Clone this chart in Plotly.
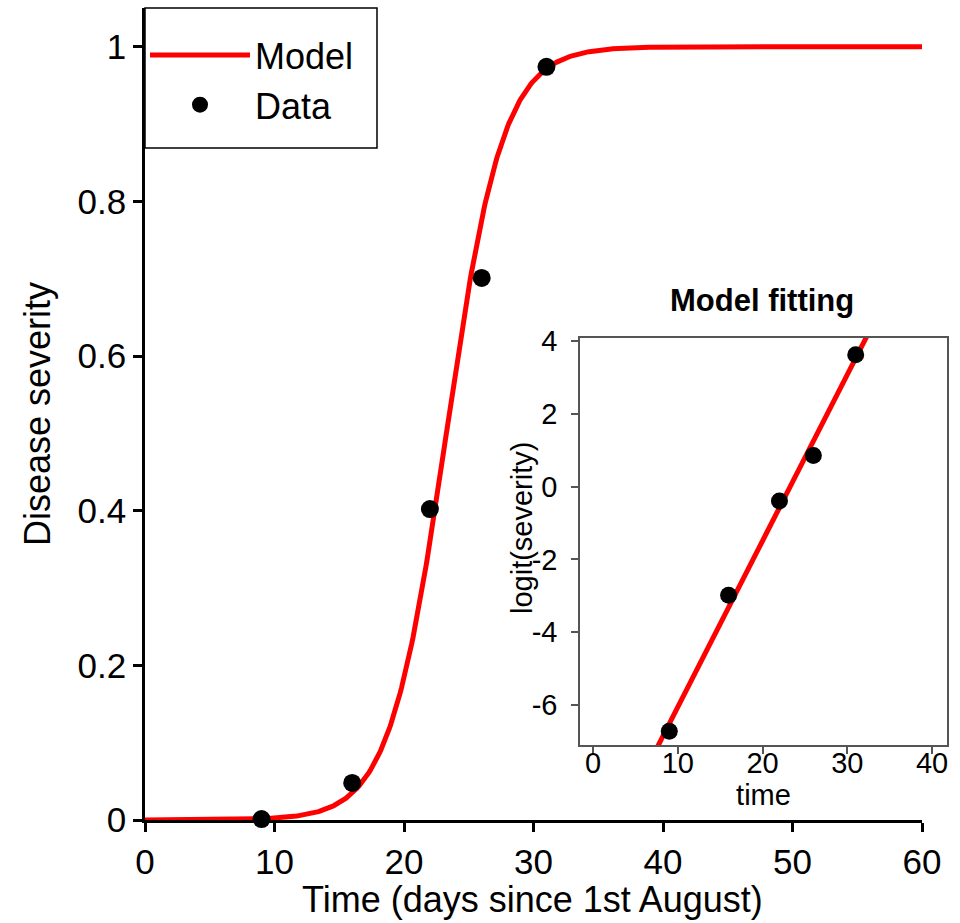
import numpy as np
import plotly.graph_objects as go

# Observed data
days = [9, 16, 22, 26, 31]
severity = [0.0012, 0.048, 0.402, 0.701, 0.974]

main_xticks = [0, 10, 20, 30, 40, 50, 60]
main_yticks = [0, 0.2, 0.4, 0.6, 0.8, 1]
main_ytick_text = ["0", "0.2", "0.4", "0.6", "0.8", "1"]
inset_xticks = [0, 10, 20, 30, 40]
inset_yticks = [-6, -4, -2, 0, 2, 4]
inset_ytick_text = ["-6", "-4", "-2", "0", "2", "4"]

# Logit transform and linear fit (model fitting)
sev = np.array(severity)
t = np.array(days, dtype=float)
logit_sev = np.log(sev / (1 - sev))
slope, intercept = np.polyfit(t, logit_sev, 1)

t_model = np.linspace(0, 60, 601)
model = 1 / (1 + np.exp(-(intercept + slope * t_model)))

t_line = np.array([-2.0, 42.0])
logit_line = intercept + slope * t_line

FONT = "Liberation Sans, Arial, sans-serif"
W, H = 960, 923


def px(x):
    return x / W


def py(y):
    return (H - y) / H


fig = go.Figure()
fig.add_trace(go.Scatter(x=t_model, y=model, mode="lines", name="Model",
                         line=dict(color="#ff0000", width=5), xaxis="x", yaxis="y"))
fig.add_trace(go.Scatter(x=days, y=severity, mode="markers", name="Data",
                         marker=dict(color="black", size=18), xaxis="x", yaxis="y",
                         cliponaxis=False))
fig.add_trace(go.Scatter(x=t_line, y=logit_line, mode="lines", showlegend=False,
                         line=dict(color="#ff0000", width=5), xaxis="x2", yaxis="y2"))
fig.add_trace(go.Scatter(x=days, y=logit_sev, mode="markers", showlegend=False,
                         marker=dict(color="black", size=17), xaxis="x2", yaxis="y2",
                         cliponaxis=False))

main_axis = dict(showgrid=False, zeroline=False, showline=True, linecolor="black",
                 linewidth=2.5, ticks="outside", ticklen=9, tickwidth=2.5, tickcolor="black",
                 automargin=False,
                 tickfont=dict(family=FONT, size=35, color="black"))
inset_axis = dict(showgrid=False, zeroline=False, showline=True, mirror=True,
                  linecolor="#555555", linewidth=1.5, ticks="outside", ticklen=7,
                  tickwidth=1.5, tickcolor="#555555", automargin=False,
                  tickfont=dict(family=FONT, size=29, color="black"))

fig.update_layout(
    width=W, height=H, margin=dict(l=0, r=0, t=0, b=0, autoexpand=False),
    paper_bgcolor="white", plot_bgcolor="white",
    font=dict(family=FONT, color="black"),
    xaxis=dict(main_axis, domain=[px(145), px(922)], range=[0, 60],
               tickvals=main_xticks, anchor="y", ticklabelstandoff=0),
    yaxis=dict(main_axis, domain=[py(820), py(8)], range=[0, 1.05],
               tickvals=main_yticks, ticktext=main_ytick_text, anchor="x",
               ticklabelstandoff=0,
               title=dict(text="Disease severity", font=dict(family=FONT, size=36),
                          standoff=16)),
    xaxis2=dict(inset_axis, domain=[px(580), px(947)], range=[-1.534, 41.77], anchor="y2",
                tickvals=inset_xticks, ticklabelstandoff=-16,
                title=dict(text="time", font=dict(family=FONT, size=29), standoff=0)),
    yaxis2=dict(inset_axis, domain=[py(745), py(338)], range=[-7.099, 4.082],
                anchor="x2", tickvals=inset_yticks, ticktext=inset_ytick_text,
                ticklabelstandoff=8),
    legend=dict(x=px(145), y=py(25), xanchor="left", yanchor="top",
                bgcolor="rgba(0,0,0,0)", borderwidth=0,
                font=dict(family=FONT, size=36, color="black"),
                itemwidth=100, tracegroupgap=0),
    shapes=[dict(type="rect", xref="paper", yref="paper",
                 x0=px(145), x1=px(377), y0=py(148), y1=py(8),
                 line=dict(color="black", width=1.5), fillcolor="white", layer="above")],
    annotations=[
        dict(text="<b>Model fitting</b>", x=px(762), y=py(300), xref="paper", yref="paper",
             xanchor="center", yanchor="middle", showarrow=False,
             font=dict(family=FONT, size=31, color="black")),
        dict(text="Time (days since 1st August)", x=px(532), y=py(899),
             xref="paper", yref="paper", xanchor="center", yanchor="middle",
             showarrow=False, font=dict(family=FONT, size=36, color="black")),
        dict(text="logit(severity)", x=px(522), y=py(528), textangle=-90,
             xref="paper", yref="paper", xanchor="center", yanchor="middle",
             showarrow=False, font=dict(family=FONT, size=29, color="black")),
    ],
)

fig.write_html("out.html", config={"displayModeBar": False},
               post_script="document.body.style.margin='0px';")
